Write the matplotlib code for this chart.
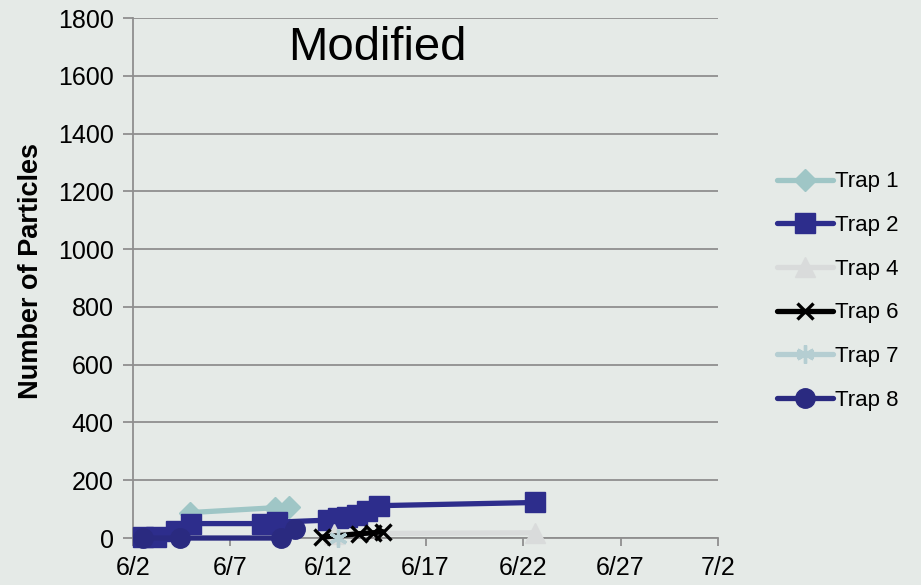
import datetime as dt
import matplotlib
matplotlib.use("Agg")
import matplotlib.pyplot as plt
import matplotlib.dates as mdates

plt.rcParams["font.family"] = ["Liberation Sans", "DejaVu Sans"]

# --- datos (dia de junio, numero de particulas) ---
TRAP1_DAYS = [4.9, 9.3, 10.0]
TRAP1_VALS = [88, 105, 108]

TRAP2_DAYS = [2.5, 3.2, 4.2, 5.0, 8.6, 9.4, 12.0, 12.5, 13.0, 13.5, 14.0, 14.6, 22.6]
TRAP2_VALS = [5, 5, 25, 50, 50, 55, 62, 68, 72, 80, 95, 112, 123]

TRAP4_DAYS = [12.3, 22.6]
TRAP4_VALS = [15, 18]

TRAP6_DAYS = [11.7, 13.6, 14.3, 14.8]
TRAP6_VALS = [3, 15, 18, 22]

TRAP7_DAYS = [12.5]
TRAP7_VALS = [0]

TRAP8_DAYS = [2.5, 4.4, 9.6, 10.3]
TRAP8_VALS = [0, 0, 0, 30]

Y_TICKS = list(range(0, 1801, 200))
X_TICK_DAYS = [2, 7, 12, 17, 22, 27, 32]

BG = "#e5eae7"
GRID = "#8f8f8f"


def _dates(days):
    base = dt.datetime(2010, 6, 1)
    return [base + dt.timedelta(days=d - 1) for d in days]


fig = plt.figure(figsize=(9.21, 5.85), dpi=100, facecolor=BG)
ax = fig.add_axes([0.1444, 0.0803, 0.6352, 0.8889])
ax.set_facecolor("none")

series = [
    ("Trap 1", TRAP1_DAYS, TRAP1_VALS, dict(color="#9fc6c6", marker="D", ms=11)),
    ("Trap 2", TRAP2_DAYS, TRAP2_VALS, dict(color="#2d2d8c", marker="s", ms=14)),
    ("Trap 4", TRAP4_DAYS, TRAP4_VALS, dict(color="#d9dbdb", marker="^", ms=14)),
    ("Trap 6", TRAP6_DAYS, TRAP6_VALS, dict(color="#000000", marker="x", ms=12, mew=2.4)),
    ("Trap 7", TRAP7_DAYS, TRAP7_VALS, dict(color="#b5ced2", marker=(6, 2, 0), ms=13, mew=2.4)),
    ("Trap 8", TRAP8_DAYS, TRAP8_VALS, dict(color="#2a2a80", marker="o", ms=14)),
]

for name, days, vals, st in series:
    ax.plot(_dates(days), vals, label=name, lw=3.8, clip_on=False,
            solid_capstyle="round", zorder=3, **st)

ax.set_ylim(0, 1800)
ax.set_yticks(Y_TICKS)
ax.set_xlim(_dates([2])[0], _dates([32])[0])
ax.set_xticks(_dates(X_TICK_DAYS))
ax.xaxis.set_major_formatter(plt.FuncFormatter(
    lambda v, p: "{}/{}".format(mdates.num2date(v).month, mdates.num2date(v).day)))

ax.grid(axis="y", color=GRID, lw=1.3)
ax.set_axisbelow(True)
for s in ("top", "right"):
    ax.spines[s].set_visible(False)
for s in ("left", "bottom"):
    ax.spines[s].set_color(GRID)
    ax.spines[s].set_linewidth(1.3)
ax.tick_params(axis="y", length=7, width=1.3, color=GRID, labelsize=18, pad=7)
ax.tick_params(axis="x", length=6, width=1.3, color=GRID, labelsize=18, pad=7)

ax.text(0.417, 0.942, "Modified", transform=ax.transAxes, ha="center", va="center",
        fontsize=34)
fig.text(0.034, 0.537, "Number of Particles", rotation=90, ha="center", va="center",
         fontsize=19.5, fontweight="bold")

ax.legend(loc="center left", bbox_to_anchor=(777 / 921, 0.5026),
          bbox_transform=fig.transFigure, frameon=False, fontsize=16,
          handlelength=2.5, handletextpad=0.1, labelspacing=1.02, borderpad=0,
          borderaxespad=0)

fig.savefig("out.png", dpi=100, facecolor=BG)
